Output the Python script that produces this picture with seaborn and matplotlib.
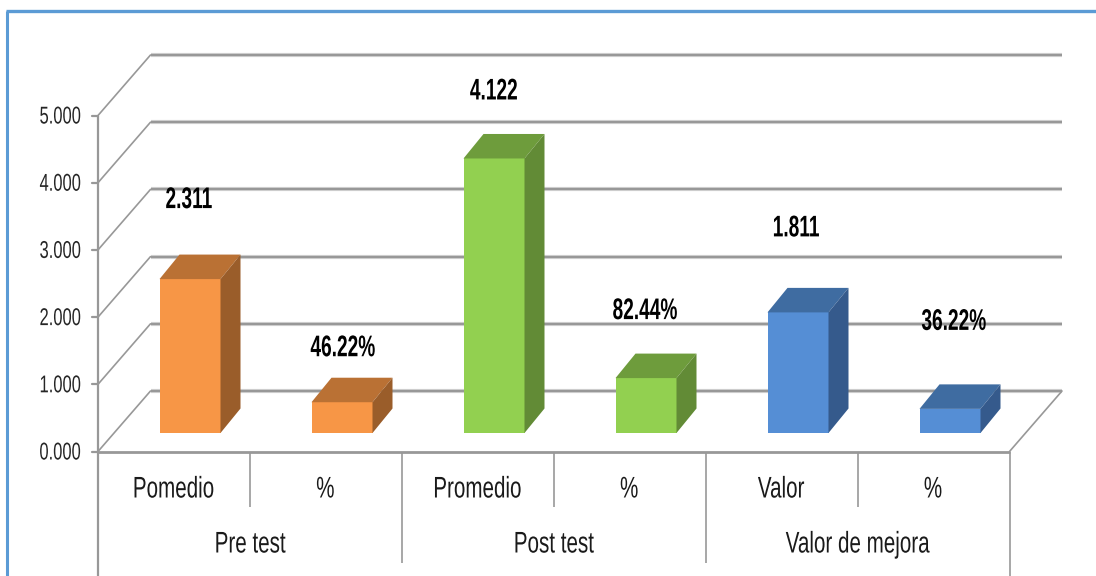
import matplotlib
matplotlib.use("Agg")
import matplotlib.pyplot as plt
import seaborn as sns
import pandas as pd
from matplotlib.patches import Polygon
from matplotlib.patheffects import AbstractPathEffect
from matplotlib.transforms import Affine2D

sns.set_theme(style="white")
plt.rcParams['font.family'] = ['Liberation Sans', 'DejaVu Sans']

# ---- data ----
groups = ["Pre test", "Pre test", "Post test", "Post test", "Valor de mejora", "Valor de mejora"]
subcats = ["Pomedio", "%", "Promedio", "%", "Valor", "%"]
values = [2.311, 0.4622, 4.122, 0.8244, 1.811, 0.3622]
value_labels = ["2.311", "46.22%", "4.122", "82.44%", "1.811", "36.22%"]
label_rise = [79, 54, 67, 67, 84, 87]
label_shift = [-1, 1, 0, -1, -2, 4]
y_ticks = [0, 1, 2, 3, 4, 5]
y_tick_labels = ["0.000", "1.000", "2.000", "3.000", "4.000", "5.000"]
group_names = ["Pre test", "Post test", "Valor de mejora"]

front = {"Pre test": "#F79646", "Post test": "#92D050", "Valor de mejora": "#558ED5"}
top = {"Pre test": "#BA7134", "Post test": "#6E9C3C", "Valor de mejora": "#3F6CA1"}
side = {"Pre test": "#9A5D2A", "Post test": "#628B36", "Valor de mejora": "#355A8C"}


class Condense(AbstractPathEffect):
    """Squeeze a text horizontally about its left, centre or right edge (reference uses a narrow face)."""

    def __init__(self, sx, anchor="center"):
        super().__init__()
        self.sx, self.anchor = sx, anchor

    def draw_path(self, renderer, gc, tpath, affine, rgbFace=None):
        ext = tpath.transformed(affine).get_extents()
        ax_ = {"center": (ext.x0 + ext.x1) / 2, "right": ext.x1, "left": ext.x0}[self.anchor]
        new = affine + Affine2D().translate(-ax_, 0).scale(self.sx, 1).translate(ax_, 0)
        renderer.draw_path(gc, tpath, new, rgbFace)


W, H = 1096, 576
fig = plt.figure(figsize=(W / 100, H / 100), dpi=100, facecolor="white")

# ---- frame layer in pixel coordinates ----
bg = fig.add_axes([0, 0, 1, 1])
bg.set_xlim(0, W)
bg.set_ylim(H, 0)
bg.axis("off")

LINE = "#989898"
x0, x1 = 98, 1009.5
dx = 52.5
y_front0, y_front5 = 451.5, 115.5
y_back0, y_back5 = 391, 55


def fy(v):
    return y_front0 + (y_front5 - y_front0) * v / 5


def by(v):
    return y_back0 + (y_back5 - y_back0) * v / 5


for v, lab in zip(y_ticks, y_tick_labels):
    bg.plot([x0 + dx, x1 + dx], [by(v), by(v)], color="#D0D0D0", lw=3, solid_capstyle="butt", zorder=1)
    bg.plot([x0 + dx, x1 + dx], [by(v), by(v)], color=LINE, lw=1.5, solid_capstyle="butt", zorder=2)
    bg.plot([x0, x0 + dx], [fy(v), by(v)], color=LINE, lw=1.2, zorder=2)
    bg.plot([x0 - 6, x0], [fy(v), fy(v)], color=LINE, lw=1.6, zorder=2)
    bg.text(81.5, fy(v) + 2, lab, ha="right", va="center", fontsize=17.5, color="#262626",
            path_effects=[Condense(0.68, "right")])

bg.plot([x0, x1], [y_front0, y_front0], color=LINE, lw=2.0, solid_capstyle="butt", zorder=2)
bg.plot([x1, x1 + dx], [y_front0, y_back0], color=LINE, lw=1.2, zorder=2)
bg.plot([x0, x0], [y_front5, H], color=LINE, lw=1.6, solid_capstyle="butt", zorder=2)
bg.plot([x1, x1], [y_front0, H], color=LINE, lw=1.2, solid_capstyle="butt", zorder=2)

step = (x1 - x0) / 6
for i in range(1, 6):
    bottom = 563 if i % 2 == 0 else 507
    bg.plot([x0 + i * step] * 2, [y_front0, bottom], color=LINE, lw=1.2, solid_capstyle="butt", zorder=2)

for i, s in enumerate(subcats):
    bg.text(x0 + (i + 0.5) * step - 0.5, 489.5, s, ha="center", va="center", fontsize=21.5, color="#1a1a1a",
            path_effects=[Condense(0.69)])
for i, g in enumerate(group_names):
    bg.text(x0 + (2 * i + 1) * step, 544.5, g, ha="center", va="center", fontsize=21.5, color="#1a1a1a",
            path_effects=[Condense(0.69)])

# outer border
bg.plot([7, 7], [H, 10.5], color="#5B9BD5", lw=2.2, solid_capstyle="butt", zorder=5)
bg.plot([6, W], [10.5, 10.5], color="#5B9BD5", lw=2.4, solid_capstyle="butt", zorder=5)
bg.plot([8.5, W], [12.3, 12.3], color="#C9B9A5", lw=0.7, solid_capstyle="butt", zorder=4)

# ---- bars ----
ax = fig.add_axes([114 / W, 1 - 433 / H, 912 / W, 333 / H])
ax.patch.set_alpha(0)
df = pd.DataFrame({"key": [f"{g}|{s}" for g, s in zip(groups, subcats)],
                   "group": groups, "value": values})
sns.barplot(data=df, x="key", y="value", hue="group", palette=front, dodge=False,
            width=61 / 152, saturation=1, legend=False, ax=ax, linewidth=0, zorder=3)
ax.set_xlim(-0.5, 5.5)
ax.set_ylim(0, 5)
ax.axis("off")

ddx = 20 / 152      # depth in category units
ddy = 24.5 / 66.6   # depth in value units
bars = sorted(ax.patches, key=lambda p: p.get_x())
for b, g, lab, rise, sh in zip(bars, groups, value_labels, label_rise, label_shift):
    l, r, h = b.get_x(), b.get_x() + b.get_width(), b.get_height()
    ax.add_patch(Polygon([(l, h), (r, h), (r + ddx, h + ddy), (l + ddx, h + ddy)],
                         closed=True, fc=top[g], ec="none", clip_on=False, zorder=3))
    ax.add_patch(Polygon([(r, 0), (r + ddx, ddy), (r + ddx, h + ddy), (r, h)],
                         closed=True, fc=side[g], ec="none", clip_on=False, zorder=3))
    ax.annotate(lab, xy=((l + r) / 2, h), xytext=(sh * 0.72, rise * 0.72),
                textcoords="offset points", ha="center", va="center",
                fontsize=21.5, fontweight="bold", color="black", zorder=6,
                annotation_clip=False, path_effects=[Condense(0.64)])

fig.savefig("out.png", dpi=100)
